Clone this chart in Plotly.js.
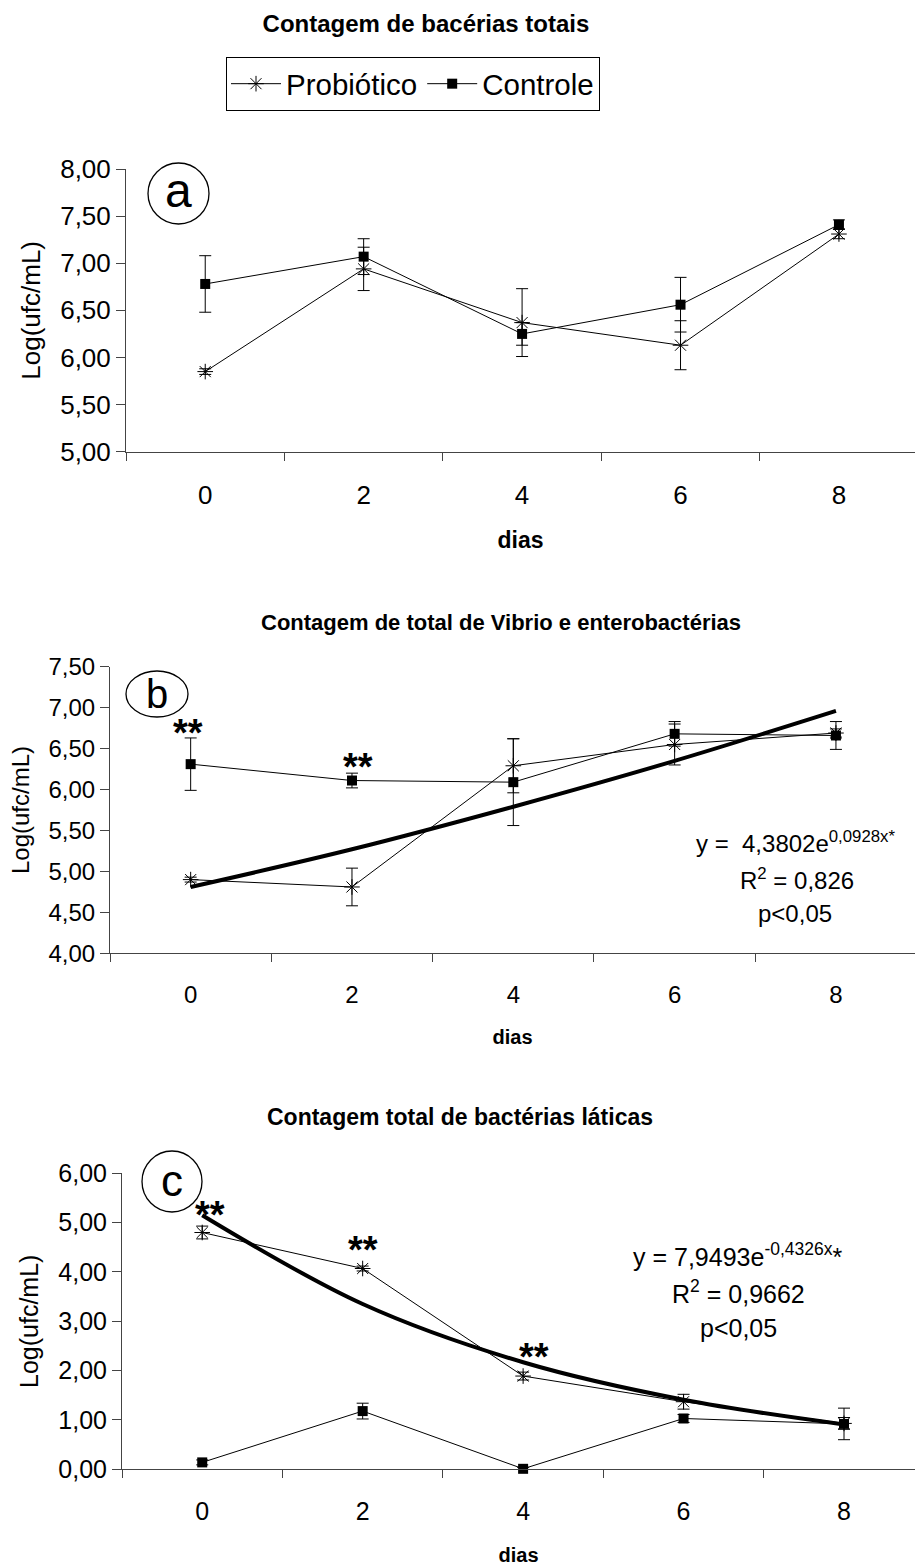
<!DOCTYPE html>
<html>
<head>
<meta charset="utf-8">
<script src="https://cdn.plot.ly/plotly-3.0.1.min.js"></script>
<style>html,body{margin:0;padding:0;background:#fff;}#chart{width:915px;height:1566px;}</style>
</head>
<body>
<div id="chart"></div>
<script>
// ---------- data ----------
const days = [0, 2, 4, 6, 8];
const seriesNames = ["Probiótico", "Controle"];

// Panel a: Contagem de bactérias totais
const probA     = [5.85, 6.94, 6.37, 6.13, 7.31];
const probAErr  = [0.03, 0.23, 0.36, 0.26, 0.05];
const ctrlA     = [6.78, 7.07, 6.25, 6.56, 7.41];
const ctrlAErr  = [0.30, 0.19, 0.12, 0.29, 0.05];

// Panel b: Vibrio e enterobactérias
const probB     = [4.90, 4.81, 6.29, 6.55, 6.69];
const probBErr  = [0.03, 0.23, 0.33, 0.25, 0.05];
const ctrlB     = [6.31, 6.11, 6.09, 6.68, 6.66];
const ctrlBErr  = [0.32, 0.09, 0.53, 0.15, 0.17];
const trendB    = [4.81, 5.27, 5.79, 6.35, 6.96];

// Panel c: bactérias láticas
const probC     = [4.80, 4.07, 1.89, 1.37, 0.93];
const probCErr  = [0.13, 0.05, 0.08, 0.15, 0.12];
const ctrlC     = [0.14, 1.18, 0.01, 1.03, 0.92];
const ctrlCErr  = [0.05, 0.16, 0.03, 0.08, 0.32];
const trendC    = [5.15, 3.35, 2.17, 1.41, 0.91];

const boundaryTicks = [-1, 1, 3, 5, 7];

// ---------- helpers (layout only) ----------
const W = 915, H = 1566;
const fx = p => p / W;
const fy = p => 1 - p / H;
const FONT = "Liberation Sans, Arial, sans-serif";

function series(xa, ya, y, err, idx, showlegend) {
  const isProb = idx === 0;
  return {
    type: "scatter", mode: "lines+markers",
    x: days, y: y, xaxis: xa, yaxis: ya,
    name: seriesNames[idx], legendgroup: seriesNames[idx], showlegend: showlegend,
    line: {color: "#000", width: 1},
    marker: isProb
      ? {symbol: "asterisk-open", size: 13, color: "#000", line: {color: "#000", width: 1}}
      : {symbol: "square", size: 10, color: "#000"},
    error_y: {type: "data", array: err, visible: true, color: "#000", thickness: 1, width: 6},
    cliponaxis: false
  };
}
function trend(xa, ya, y) {
  return {type: "scatter", mode: "lines", x: days, y: y, xaxis: xa, yaxis: ya,
    showlegend: false, line: {color: "#000", width: 4, shape: "spline"}, hoverinfo: "skip"};
}

const traces = [
  series("x", "y", probA, probAErr, 0, true),
  series("x", "y", ctrlA, ctrlAErr, 1, true),
  trend("x2", "y2", trendB),
  series("x2", "y2", probB, probBErr, 0, false),
  series("x2", "y2", ctrlB, ctrlBErr, 1, false),
  trend("x3", "y3", trendC),
  series("x3", "y3", probC, probCErr, 0, false),
  series("x3", "y3", ctrlC, ctrlCErr, 1, false)
];

function xaxis(left, rmax, anchor, fs, titleSize, standoff) {
  return {
    domain: [fx(left), 1], range: [-1, rmax], anchor: anchor,
    showgrid: false, zeroline: false, showline: true, linecolor: "#444", linewidth: 1,
    tickmode: "array", tickvals: days, ticktext: days.map(String), ticks: "",
    ticklabelstandoff: 20,
    tickfont: {family: FONT, size: fs, color: "#000"},
    minor: {tickmode: "array", tickvals: boundaryTicks, ticks: "outside", ticklen: 8, tickcolor: "#444", tickwidth: 1, showgrid: false},
    title: {text: "<b>dias</b>", font: {family: FONT, size: titleSize, color: "#000"}, standoff: standoff},
    fixedrange: true
  };
}
function yaxis(top, bottom, lo, hi, dt, anchor, fs, standoff) {
  return {
    domain: [fy(bottom), fy(top)], range: [lo, hi], anchor: anchor,
    showgrid: false, zeroline: false, showline: true, linecolor: "#444", linewidth: 1,
    tickmode: "linear", tick0: lo, dtick: dt, tickformat: ".2f",
    ticks: "outside", ticklen: 9, tickcolor: "#444", tickwidth: 1,
    tickfont: {family: FONT, size: fs, color: "#000"},
    title: {text: "Log(ufc/mL)", font: {family: FONT, size: fs, color: "#000"}, standoff: standoff},
    fixedrange: true
  };
}

const layout = {
  width: W, height: H,
  margin: {l: 0, r: 0, t: 0, b: 0},
  paper_bgcolor: "#fff", plot_bgcolor: "#fff",
  separators: ",.",
  font: {family: FONT, color: "#000"},
  title: {text: "<b>Contagem de bacérias totais</b>", font: {family: FONT, size: 24, color: "#000"},
          x: fx(426), xanchor: "center", y: fy(24), yanchor: "middle"},
  showlegend: true,
  legend: {orientation: "h", x: fx(226), y: fy(57), xanchor: "left", yanchor: "top",
           bordercolor: "#000", borderwidth: 1, font: {family: FONT, size: 29.5, color: "#000"},
           itemwidth: 50, bgcolor: "#fff"},
  xaxis: xaxis(126, 8.96, "y", 26, 23, 22),
  yaxis: yaxis(169, 451.7, 5, 8, 0.5, "x", 26, 12),
  xaxis2: xaxis(110, 8.98, "y2", 24, 20, 22),
  yaxis2: yaxis(666.7, 953.3, 4, 7.5, 0.5, "x2", 24, 12),
  xaxis3: xaxis(122, 8.885, "y3", 25, 20, 28),
  yaxis3: yaxis(1173.3, 1469.3, 0, 6, 1, "x3", 25, 12),
  shapes: [
    {type: "circle", xref: "paper", yref: "paper", x0: fx(148), x1: fx(209), y0: fy(163), y1: fy(224), line: {color: "#000", width: 1.3}},
    {type: "circle", xref: "paper", yref: "paper", x0: fx(126), x1: fx(188), y0: fy(671), y1: fy(717), line: {color: "#000", width: 1.3}},
    {type: "circle", xref: "paper", yref: "paper", x0: fx(142), x1: fx(202), y0: fy(1151), y1: fy(1212), line: {color: "#000", width: 1.3}}
  ],
  annotations: [
    {text: "a", xref: "paper", yref: "paper", x: fx(178), y: fy(191), xanchor: "center", yanchor: "middle", showarrow: false, font: {family: FONT, size: 48}},
    {text: "b", xref: "paper", yref: "paper", x: fx(157), y: fy(694), xanchor: "center", yanchor: "middle", showarrow: false, font: {family: FONT, size: 40}},
    {text: "c", xref: "paper", yref: "paper", x: fx(172), y: fy(1180), xanchor: "center", yanchor: "middle", showarrow: false, font: {family: FONT, size: 44}},
    {text: "<b>Contagem de total de Vibrio e enterobactérias</b>", xref: "paper", yref: "paper", x: fx(501), y: fy(622), xanchor: "center", yanchor: "middle", showarrow: false, font: {family: FONT, size: 22}},
    {text: "<b>Contagem total de bactérias láticas</b>", xref: "paper", yref: "paper", x: fx(460), y: fy(1117), xanchor: "center", yanchor: "middle", showarrow: false, font: {family: FONT, size: 23}},
    // significance marks
    {text: "<b>**</b>", xref: "paper", yref: "paper", x: fx(188), y: fy(733), xanchor: "center", yanchor: "middle", showarrow: false, font: {family: FONT, size: 38}},
    {text: "<b>**</b>", xref: "paper", yref: "paper", x: fx(358), y: fy(767), xanchor: "center", yanchor: "middle", showarrow: false, font: {family: FONT, size: 38}},
    {text: "<b>**</b>", xref: "paper", yref: "paper", x: fx(210), y: fy(1215), xanchor: "center", yanchor: "middle", showarrow: false, font: {family: FONT, size: 38}},
    {text: "<b>**</b>", xref: "paper", yref: "paper", x: fx(363), y: fy(1250), xanchor: "center", yanchor: "middle", showarrow: false, font: {family: FONT, size: 38}},
    {text: "<b>**</b>", xref: "paper", yref: "paper", x: fx(534), y: fy(1357), xanchor: "center", yanchor: "middle", showarrow: false, font: {family: FONT, size: 38}},
    // equations
    {text: "y =  4,3802e<sup>0,0928x*</sup>", xref: "paper", yref: "paper", x: fx(795), y: fy(842), xanchor: "center", yanchor: "middle", showarrow: false, font: {family: FONT, size: 24}},
    {text: "R<sup>2</sup> = 0,826", xref: "paper", yref: "paper", x: fx(797), y: fy(879), xanchor: "center", yanchor: "middle", showarrow: false, font: {family: FONT, size: 24}},
    {text: "p<0,05", xref: "paper", yref: "paper", x: fx(795), y: fy(913), xanchor: "center", yanchor: "middle", showarrow: false, font: {family: FONT, size: 24}},
    {text: "y = 7,9493e<sup>-0,4326x</sup>*", xref: "paper", yref: "paper", x: fx(737), y: fy(1255), xanchor: "center", yanchor: "middle", showarrow: false, font: {family: FONT, size: 25}},
    {text: "R<sup>2</sup> = 0,9662", xref: "paper", yref: "paper", x: fx(738), y: fy(1292), xanchor: "center", yanchor: "middle", showarrow: false, font: {family: FONT, size: 25}},
    {text: "p<0,05", xref: "paper", yref: "paper", x: fx(738), y: fy(1328), xanchor: "center", yanchor: "middle", showarrow: false, font: {family: FONT, size: 25}}
  ]
};

Plotly.newPlot("chart", traces, layout, {staticPlot: true, displayModeBar: false});
</script>
</body>
</html>
